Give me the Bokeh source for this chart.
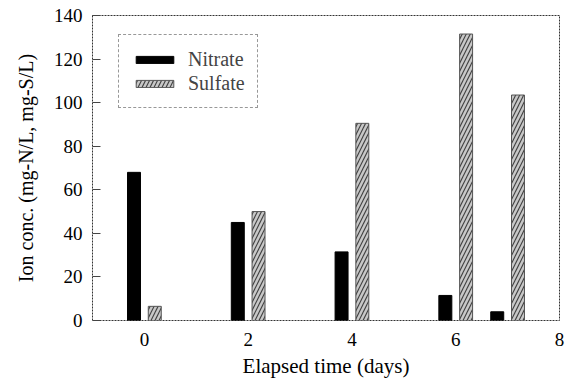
from bokeh.plotting import figure
from bokeh.models import FixedTicker, Range1d, Legend
from bokeh.embed import file_html
from bokeh.resources import INLINE
from bokeh.transform import dodge

# Data
days = [0, 2, 4, 6, 7]
nitrate = [68, 45, 31.5, 11.5, 4]
sulfate = [6.5, 50, 90.5, 131.5, 103.5]
x_ticks = [0, 2, 4, 6, 8]
y_ticks = [0, 20, 40, 60, 80, 100, 120, 140]

FONT = "Liberation Serif"

p = figure(width=567, height=381, output_backend="svg", toolbar_location=None,
           x_range=Range1d(-1, 8), y_range=Range1d(0, 140),
           min_border_left=92, min_border_right=8, min_border_top=15, min_border_bottom=61)

src = dict(days=days, nitrate=nitrate, sulfate=sulfate)
r1 = p.vbar(x=dodge("days", -0.2), top="nitrate", width=0.25, source=src,
            fill_color="black", line_color="black")
r2 = p.vbar(x=dodge("days", 0.2), top="sulfate", width=0.25, source=src,
            fill_color="#c8c8c8", line_color="#555555", line_width=1,
            hatch_pattern="/", hatch_color="#444444", hatch_scale=8, hatch_weight=1.2)

legend = Legend(items=[("Nitrate", [r1]), ("Sulfate", [r2])], location=(26, 212),
                glyph_width=47, glyph_height=9, label_standoff=10,
                label_text_font=FONT, label_text_font_size="20px", label_height=24,
                padding=12, spacing=0, margin=0,
                border_line_color="#333333", border_line_dash="2 1", border_line_width=1,
                background_fill_alpha=1)
p.add_layout(legend)

p.grid.grid_line_color = None
p.outline_line_color = "#333333"
p.outline_line_dash = "2 1"
p.outline_line_width = 1

p.xaxis.ticker = FixedTicker(ticks=x_ticks)
p.yaxis.ticker = FixedTicker(ticks=y_ticks)
for ax in (p.xaxis, p.yaxis):
    ax.axis_line_color = None
    ax.minor_tick_line_color = None
    ax.major_label_text_font = FONT
    ax.major_label_text_font_size = "19px"
    ax.major_label_text_color = "black"
    ax.axis_label_text_font = FONT
    ax.axis_label_text_font_style = "normal"
    ax.axis_label_text_color = "black"

p.xaxis.major_tick_line_color = None
p.xaxis.major_label_standoff = 6
p.xaxis.axis_label = "Elapsed time (days)"
p.xaxis.axis_label_text_font_size = "21px"
p.xaxis.axis_label_standoff = 5

p.yaxis.major_tick_in = 8
p.yaxis.major_tick_out = 0
p.yaxis.major_tick_line_color = "#444444"
p.yaxis.major_label_standoff = 10
p.yaxis.axis_label = "Ion conc. (mg-N/L, mg-S/L)"
p.yaxis.axis_label_text_font_size = "20px"
p.yaxis.axis_label_standoff = 14

open("out.html", "w").write(file_html(p, INLINE))
